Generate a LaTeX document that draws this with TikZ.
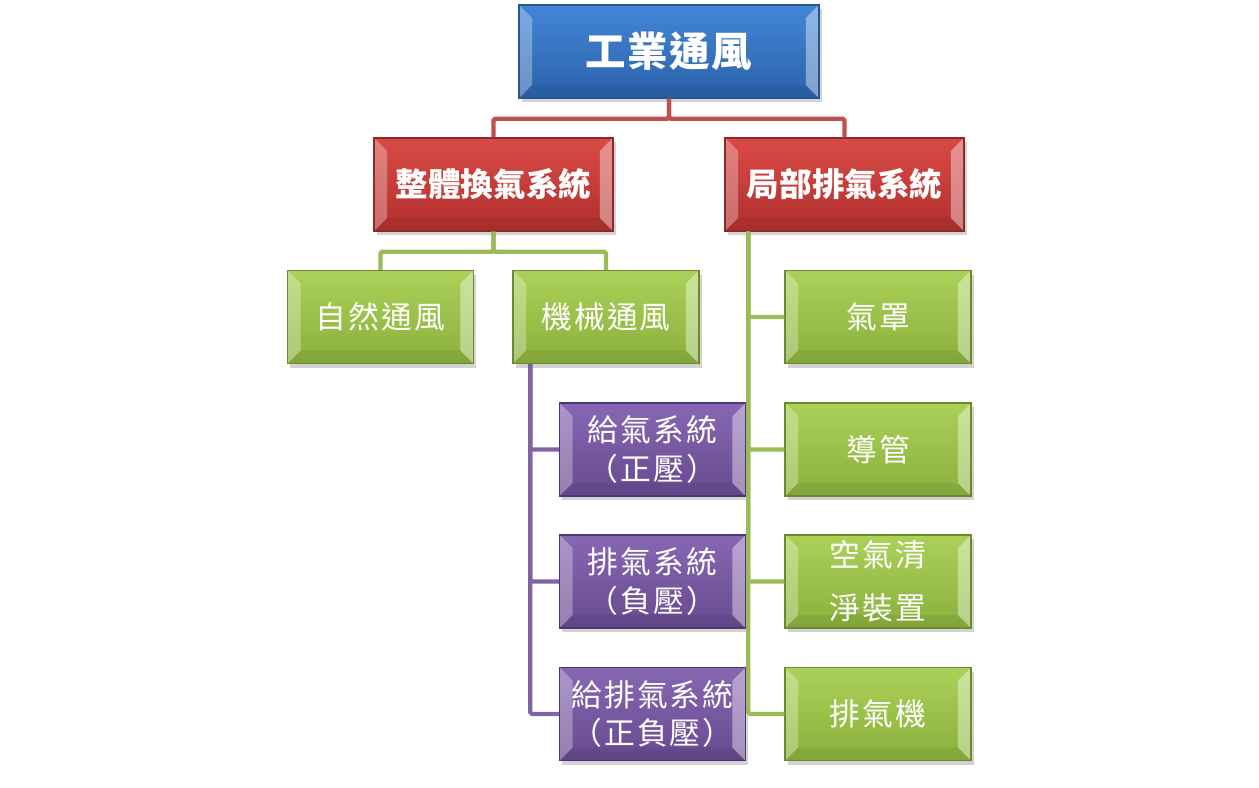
\documentclass[tikz,border=0pt]{standalone}
\usepackage{fontspec}
\setmainfont{Noto Sans CJK TC}
\usetikzlibrary{shadows,calc}

\definecolor{bluetop}{HTML}{4286D6}
\definecolor{bluebot}{HTML}{2C62AA}
\definecolor{blueedge}{HTML}{2A5690}
\definecolor{redtop}{HTML}{DA4A45}
\definecolor{redbot}{HTML}{B0302D}
\definecolor{rededge}{HTML}{8C2A28}
\definecolor{greentop}{HTML}{ABD159}
\definecolor{greenbot}{HTML}{8AB03C}
\definecolor{greenedge}{HTML}{6B8A2E}
\definecolor{purpletop}{HTML}{8767B2}
\definecolor{purplebot}{HTML}{674A90}
\definecolor{purpleedge}{HTML}{4C3870}
\definecolor{redline}{HTML}{C0504D}
\definecolor{greenline}{HTML}{9BBB59}
\definecolor{purpleline}{HTML}{8064A2}

\newcommand{\boxbevel}{%
  \fill[white,opacity=0.3] (path picture bounding box.north west) -- ++(0.26cm,-0.26cm)
    -- ($(path picture bounding box.south west)+(0.26cm,0.26cm)$) -- (path picture bounding box.south west) -- cycle;
  \fill[white,opacity=0.4] (path picture bounding box.north east) -- ++(-0.26cm,-0.26cm)
    -- ($(path picture bounding box.south east)+(-0.26cm,0.26cm)$) -- (path picture bounding box.south east) -- cycle;
  \fill[black,opacity=0.06] (path picture bounding box.south west) -- ++(0.26cm,0.26cm)
    -- ($(path picture bounding box.south east)+(-0.26cm,0.26cm)$) -- (path picture bounding box.south east) -- cycle;
}

\tikzset{
  box/.style={rectangle, minimum width=3.72cm, minimum height=1.86cm, inner sep=0pt,
    line width=0.8pt, text=white, align=center,
    drop shadow={opacity=0.35, shadow xshift=1.5pt, shadow yshift=-2.5pt},
    path picture={\boxbevel}, font=\fontsize{17.5}{22}\selectfont\addfontfeature{LetterSpace=7}},
  bluebox/.style={box, draw=blueedge, top color=bluetop, bottom color=bluebot,
    minimum width=6cm, font=\fontsize{23}{28}\selectfont\bfseries\addfontfeature{LetterSpace=4}},
  redbox/.style={box, draw=rededge, top color=redtop, bottom color=redbot,
    minimum width=4.78cm, font=\fontsize{18.5}{22}\selectfont\bfseries},
  greenbox/.style={box, draw=greenedge, top color=greentop, bottom color=greenbot},
  purplebox/.style={box, draw=purpleedge, top color=purpletop, bottom color=purplebot},
  link/.style={line width=2.4pt, rounded corners=1pt}
}

\begin{document}
\begin{tikzpicture}[x=0.02cm,y=-0.02cm]
\useasboundingbox (0,0) rectangle (1259,788);

\node[bluebox] (top) at (669,51.5) {工業通風};

\node[redbox] (whole) at (493.5,184.5) {整體換氣系統};
\node[redbox] (local) at (844.5,184.5) {局部排氣系統};

\node[greenbox] (natural) at (380.5,317) {自然通風};
\node[greenbox] (mech) at (606,317) {機械通風};

\node[purplebox] (supply) at (652.5,449.5) {給氣系統\\（正壓）};
\node[purplebox] (exhaust) at (652.5,581.5) {排氣系統\\（負壓）};
\node[purplebox] (mixed) at (652.5,714) {給排氣系統\\（正負壓）};

\node[greenbox] (hood) at (878,317) {氣罩};
\node[greenbox] (duct) at (878,449.5) {導管};
\node[greenbox] (cleaner) at (878,581.5) {空氣清\\[8pt]淨裝置};
\node[greenbox] (fan) at (878,714) {排氣機};

% top level
\draw[link,redline] (top.south) -- ++(0,20) -| (whole.north);
\draw[link,redline] (top.south) -- ++(0,20) -| (local.north);

% whole ventilation
\draw[link,greenline] (whole.south) -- ++(0,20) -| (natural.north);
\draw[link,greenline] (whole.south) -- ++(0,20) -| (mech.north);

% local exhaust
\coordinate (localdrop) at ($(local.south west)+(24,0)$);
\draw[link,greenline] (localdrop) |- (hood.west);
\draw[link,greenline] (localdrop) |- (duct.west);
\draw[link,greenline] (localdrop) |- (cleaner.west);
\draw[link,greenline] (localdrop) |- (fan.west);

% mechanical
\coordinate (mechdrop) at ($(mech.south west)+(18,0)$);
\draw[link,purpleline] (mechdrop) |- (supply.west);
\draw[link,purpleline] (mechdrop) |- (exhaust.west);
\draw[link,purpleline] (mechdrop) |- (mixed.west);
\end{tikzpicture}
\end{document}
